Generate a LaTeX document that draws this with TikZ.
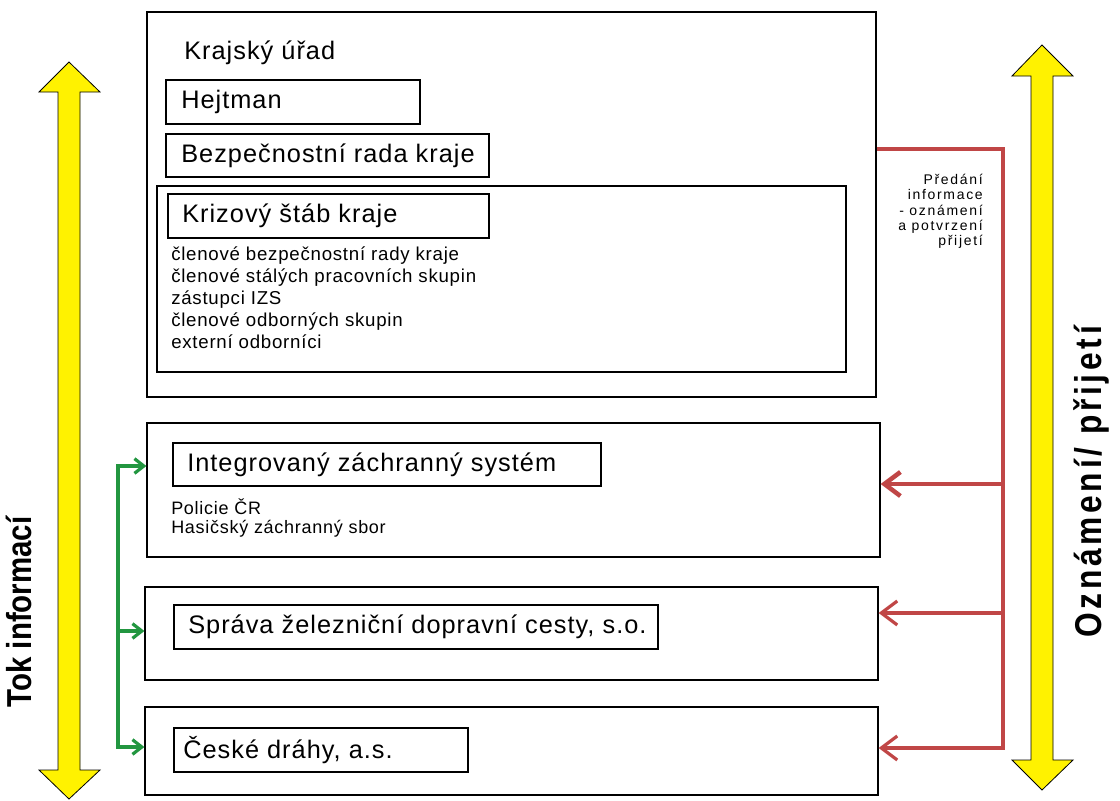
\documentclass[tikz,border=0pt]{standalone}
\usepackage{fontspec}
\setmainfont{Liberation Sans}[LetterSpace=4]
\newfontfamily\sidefont{Liberation Sans}[FakeStretch=0.85]
\usetikzlibrary{fit,arrows.meta}
\definecolor{krajred}{RGB}{192,70,70}
\definecolor{tokgreen}{RGB}{34,150,64}

\begin{document}
\begin{tikzpicture}[x=0.75pt,y=0.75pt,yscale=-1,xscale=1,
  box/.style={draw, inner sep=0pt, line width=0.9pt},
  title/.style={anchor=west, inner sep=0pt, font=\fontsize{19}{22}\selectfont},
  small/.style={anchor=north west, inner sep=0pt, align=left},
  side/.style={rotate=90, inner sep=0pt, font=\sidefont\bfseries\fontsize{26}{28}\selectfont},
  yellowarrow/.style={fill=yellow, draw=black, line width=0.6pt},
  redline/.style={draw=krajred, line width=2.4pt},
  greenline/.style={draw=tokgreen, line width=2.4pt},
  redtip/.style={-{Straight Barb[length=12pt,width=18pt]}},
  greentip/.style={-{Straight Barb[length=7pt,width=11pt]}}]
\useasboundingbox (0,0) rectangle (1120,800);

%Shape: Yellow double arrows
\draw[yellowarrow] (69,62) -- (100,92) -- (80,92) -- (80,770) -- (100,770) -- (69,799) -- (39,770) -- (58,770) -- (58,92) -- (39,92) -- cycle ;
\draw[yellowarrow] (1042,45) -- (1073,76) -- (1053,76) -- (1053,760) -- (1073,760) -- (1042,790) -- (1012,760) -- (1031,760) -- (1031,76) -- (1012,76) -- cycle ;

% Side Text Nodes
\node[side] (tok) at (19,612) {Tok informací};
\node[side, font=\sidefont\bfseries\fontsize{28}{30}\selectfont\addfontfeature{LetterSpace=10}] (oznameni) at (1091,482) {Oznámení/ přijetí};

%Shape: Rectangle (krajsky urad)
\node[box, fit={(147,12)(876,397)}] (kraj) {};
\node[title] (krajtxt) at (184,53) {Krajský úřad};
\node[box, fit={(166,80)(420,124)}] (hejtman) {};
\node[title] (hejtmantxt) at (181,102) {Hejtman};
\node[box, fit={(166,134)(489,177)}] (rada) {};
\node[title] (radatxt) at (181,156) {Bezpečnostní rada kraje};

%Shape: Rectangle (krizovy stab)
\node[box, fit={(157,186)(846,372)}] (stab) {};
\node[box, fit={(168,194)(489,238)}] (stablbl) {};
\node[title] (stabtxt) at (182,216) {Krizový štáb kraje};
\node[small, font=\fontsize{14}{16.5}\selectfont] (stablist) at (171,246) {členové bezpečnostní rady kraje\\
  členové stálých pracovních skupin\\
  zástupci IZS\\
  členové odborných skupin\\
  externí odborníci};

%Shape: Rectangle (IZS)
\node[box, fit={(147,423)(880,557)}] (izs) {};
\node[box, fit={(173,443)(601,486)}] (izslbl) {};
\node[title] (izstxt) at (187,465) {Integrovaný záchranný systém};
\node[small, font=\fontsize{13.5}{14.25}\selectfont] (izslist) at (171,498) {Policie ČR\\
  Hasičský záchranný sbor};

%Shape: Rectangle (SZDC)
\node[box, fit={(145,587)(878,680)}] (szdc) {};
\node[box, fit={(174,605)(658,649)}] (szdclbl) {};
\node[title] (szdctxt) at (188,627) {Správa železniční dopravní cesty, s.o.};

%Shape: Rectangle (CD)
\node[box, fit={(145,707)(878,795)}] (cd) {};
\node[box, fit={(174,728)(468,772)}] (cdlbl) {};
\node[title] (cdtxt) at (183,750) {České dráhy, a.s.};

% Text Node (predani)
\node[anchor=north east, inner sep=0pt, align=right, font=\fontsize{10.5}{11.5}\selectfont\addfontfeature{LetterSpace=12}] (predani) at (983,174) {Předání\\ informace\\ - oznámení\\ a potvrzení\\ přijetí};

%Red connectors
\coordinate (rtop) at (1003,149);
\coordinate (r1) at (1003,484);
\coordinate (r2) at (1003,613);
\coordinate (r3) at (1003,748);
\draw[redline, redtip] (kraj.east |- rtop) -- (rtop) -- (r3) -- (cd.east |- r3);
\draw[redline, redtip, line width=3.4pt] (r1) -- (izs.east |- r1);
\draw[redline, redtip] (r2) -- (szdc.east |- r2);

%Green connectors
\coordinate (g1) at (118,466);
\coordinate (g2) at (118,631);
\coordinate (g3) at (118,747);
\draw[greenline, greentip] (g3) -- (g1) -- (izs.west |- g1);
\draw[greenline, greentip] (g2) -- (szdc.west |- g2);
\draw[greenline, greentip] (g1) -- (g3) -- (cd.west |- g3);

\end{tikzpicture}
\end{document}
